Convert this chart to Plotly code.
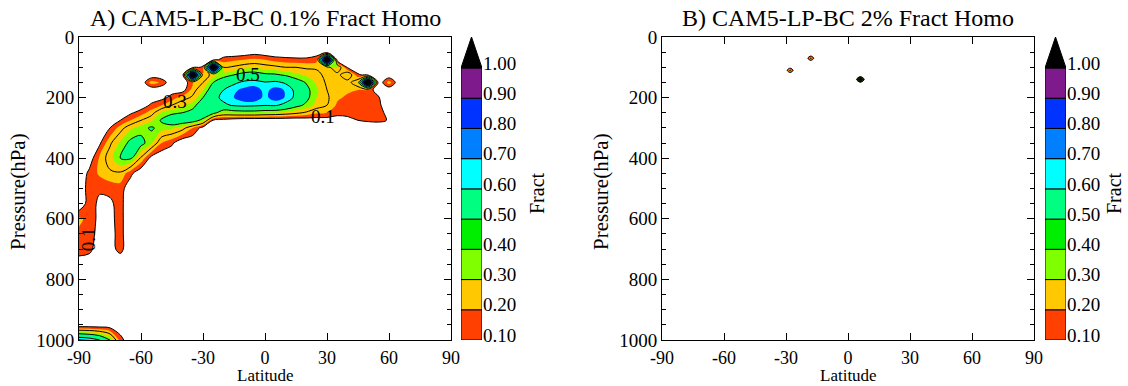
import numpy as np
import plotly.graph_objects as go

# ---------------- data ----------------
lats = [-90, -85, -80, -75, -70, -65, -60, -55, -50, -45, -40, -35, -30, -25, -20, -15,
        -10, -5, 0, 5, 10, 15, 20, 25, 30, 35, 40, 45, 50, 55, 60, 65]
plevs = [50, 75, 100, 125, 150, 175, 200, 225, 250, 275, 300, 350, 400, 450, 500, 550,
         600, 650, 700, 750, 800, 900, 950, 1000]

# Panel A: fraction profiles, one list per latitude (values at plevs)
frac_a_by_lat = [
    [0, 0, 0, 0, 0, 0, 0, 0, 0, 0, 0, 0, 0, 0, 0, 0, 0.22, 0.18, 0.15, 0.04, 0, 0, 0, 0.85],        # -90
    [0, 0, 0, 0, 0, 0, 0, 0, 0, 0, 0, 0, 0.03, 0.13, 0.16, 0.16, 0.17, 0.15, 0.13, 0.03, 0, 0, 0, 0.8],  # -85
    [0, 0, 0, 0, 0, 0, 0, 0, 0, 0, 0, 0.08, 0.22, 0.22, 0.12, 0.07, 0.06, 0.05, 0.03, 0, 0, 0, 0, 0.7],  # -80
    [0, 0, 0, 0, 0, 0, 0, 0, 0, 0, 0.1, 0.28, 0.36, 0.28, 0.13, 0.08, 0.07, 0.06, 0.05, 0, 0, 0, 0, 0.5],  # -75
    [0, 0, 0, 0, 0, 0, 0, 0, 0, 0.1, 0.25, 0.42, 0.5, 0.28, 0.15, 0.14, 0.14, 0.14, 0.14, 0, 0, 0, 0, 0.15],  # -70
    [0, 0, 0, 0, 0, 0, 0, 0, 0.08, 0.2, 0.38, 0.54, 0.52, 0.13, 0.02, 0, 0, 0, 0, 0, 0, 0, 0, 0],  # -65
    [0, 0, 0, 0, 0, 0, 0, 0.03, 0.15, 0.3, 0.45, 0.55, 0.28, 0, 0, 0, 0, 0, 0, 0, 0, 0, 0, 0],  # -60
    [0, 0, 0, 0, 0.25, 0, 0.04, 0.12, 0.25, 0.38, 0.52, 0.42, 0.05, 0, 0, 0, 0, 0, 0, 0, 0, 0, 0, 0],  # -55
    [0, 0, 0, 0, 0.18, 0, 0.06, 0.2, 0.42, 0.52, 0.45, 0.2, 0, 0, 0, 0, 0, 0, 0, 0, 0, 0, 0, 0],  # -50
    [0, 0, 0, 0, 0, 0.05, 0.14, 0.3, 0.47, 0.62, 0.42, 0.12, 0, 0, 0, 0, 0, 0, 0, 0, 0, 0, 0, 0],  # -45
    [0, 0, 0, 0, 0, 0.04, 0.25, 0.38, 0.5, 0.6, 0.35, 0, 0, 0, 0, 0, 0, 0, 0, 0, 0, 0, 0, 0],  # -40
    [0, 0, 0.05, 1.5, 0.2, 0.25, 0.32, 0.45, 0.55, 0.58, 0.2, 0, 0, 0, 0, 0, 0, 0, 0, 0, 0, 0, 0, 0],  # -35
    [0, 0, 0.12, 0.22, 0.3, 0.4, 0.5, 0.6, 0.65, 0.45, 0.05, 0, 0, 0, 0, 0, 0, 0, 0, 0, 0, 0, 0, 0],  # -30
    [0, 0.05, 1.5, 0.35, 0.5, 0.6, 0.65, 0.68, 0.55, 0.08, 0, 0, 0, 0, 0, 0, 0, 0, 0, 0, 0, 0, 0, 0],  # -25
    [0, 0.15, 0.3, 0.45, 0.6, 0.7, 0.74, 0.67, 0.4, 0.05, 0, 0, 0, 0, 0, 0, 0, 0, 0, 0, 0, 0, 0, 0],  # -20
    [0, 0.18, 0.32, 0.5, 0.67, 0.78, 0.8, 0.72, 0.42, 0.02, 0, 0, 0, 0, 0, 0, 0, 0, 0, 0, 0, 0, 0, 0],  # -15
    [0.02, 0.2, 0.36, 0.56, 0.73, 0.83, 0.87, 0.74, 0.43, 0, 0, 0, 0, 0, 0, 0, 0, 0, 0, 0, 0, 0, 0, 0],  # -10
    [0.05, 0.22, 0.38, 0.57, 0.75, 0.85, 0.87, 0.73, 0.43, 0, 0, 0, 0, 0, 0, 0, 0, 0, 0, 0, 0, 0, 0, 0],  # -5
    [0.02, 0.2, 0.35, 0.53, 0.71, 0.77, 0.77, 0.71, 0.41, 0, 0, 0, 0, 0, 0, 0, 0, 0, 0, 0, 0, 0, 0, 0],  # 0
    [0, 0.16, 0.33, 0.52, 0.73, 0.84, 0.86, 0.72, 0.4, 0, 0, 0, 0, 0, 0, 0, 0, 0, 0, 0, 0, 0, 0, 0],  # 5
    [0, 0.14, 0.3, 0.48, 0.68, 0.79, 0.79, 0.65, 0.37, 0, 0, 0, 0, 0, 0, 0, 0, 0, 0, 0, 0, 0, 0, 0],  # 10
    [0, 0.13, 0.3, 0.43, 0.57, 0.66, 0.66, 0.55, 0.33, 0, 0, 0, 0, 0, 0, 0, 0, 0, 0, 0, 0, 0, 0, 0],  # 15
    [0, 0.13, 0.28, 0.38, 0.49, 0.54, 0.54, 0.47, 0.28, 0.02, 0, 0, 0, 0, 0, 0, 0, 0, 0, 0, 0, 0, 0, 0],  # 20
    [0.04, 0.16, 0.28, 0.34, 0.38, 0.42, 0.4, 0.36, 0.22, 0.03, 0, 0, 0, 0, 0, 0, 0, 0, 0, 0, 0, 0, 0, 0],  # 25
    [0.05, 1.5, 0.25, 0.26, 0.28, 0.3, 0.32, 0.3, 0.2, 0.04, 0, 0, 0, 0, 0, 0, 0, 0, 0, 0, 0, 0, 0, 0],  # 30
    [0, 0.03, 0.42, 0.25, 0.26, 0.25, 0.22, 0.18, 0.15, 0.02, 0, 0, 0, 0, 0, 0, 0, 0, 0, 0, 0, 0, 0, 0],  # 35
    [0, 0, 0.08, 0.42, 0.24, 0.22, 0.18, 0.15, 0.14, 0.06, 0, 0, 0, 0, 0, 0, 0, 0, 0, 0, 0, 0, 0, 0],  # 40
    [0, 0, 0, 0.12, 0.42, 0.2, 0.16, 0.15, 0.15, 0.1, 0, 0, 0, 0, 0, 0, 0, 0, 0, 0, 0, 0, 0, 0],  # 45
    [0, 0, 0, 0.05, 1.5, 0.15, 0.15, 0.14, 0.14, 0.12, 0, 0, 0, 0, 0, 0, 0, 0, 0, 0, 0, 0, 0, 0],  # 50
    [0, 0, 0, 0, 0, 0.04, 0.11, 0.12, 0.13, 0.13, 0, 0, 0, 0, 0, 0, 0, 0, 0, 0, 0, 0, 0, 0],  # 55
    [0, 0, 0, 0, 0.25, 0, 0, 0.03, 0.07, 0.09, 0, 0, 0, 0, 0, 0, 0, 0, 0, 0, 0, 0, 0, 0],  # 60
    [0, 0, 0, 0, 0, 0, 0, 0, 0, 0, 0, 0, 0, 0, 0, 0, 0, 0, 0, 0, 0, 0, 0, 0],  # 65
]

# Panel B: blank field except a few isolated spots
spot_lat = [-28, -18, 6]
spot_p = [110, 70, 140]
spot_val = [0.35, 0.35, 1.3]

levels = [0.1, 0.2, 0.3, 0.4, 0.5, 0.6, 0.7, 0.8, 0.9, 1.0]
level_labels = ["0.10", "0.20", "0.30", "0.40", "0.50", "0.60", "0.70", "0.80", "0.90", "1.00"]
band_colors = ["#FF4000", "#FFC800", "#80FF00", "#00EE00", "#00FF80",
               "#00FFFF", "#0080FF", "#0033FF", "#7F1A8C"]
xtick_vals = [-90, -60, -30, 0, 30, 60, 90]
xtick_text = ["-90", "-60", "-30", "0", "30", "60", "90"]
ytick_vals = [0, 200, 400, 600, 800, 1000]

# contour labels (text, lat, p, angle)
clabels = [("0.5", -8, 123, 0), ("0.3", -43.5, 213, 0), ("0.1", 28, 263, 0), ("0.1", -85.6, 667, -90)]

# ---------------- build ----------------
z_a = np.array(frac_a_by_lat, dtype=float).T

lat_b = np.arange(-90, 91, 2)
p_b = np.arange(0, 1001, 10)
z_b = np.zeros((len(p_b), len(lat_b)))
for la, pp, v in zip(spot_lat, spot_p, spot_val):
    z_b[int(np.argmin(np.abs(p_b - pp))), int(np.argmin(np.abs(lat_b - la)))] = v

# stepped colorscale: below 0.1 white, bands, above 1.0 black
cs = [[0.0, "white"], [0.1, "white"]]
for i, c in enumerate(band_colors):
    lo = 0.1 * (i + 1)
    hi = 0.1 * (i + 2) if i < len(band_colors) - 1 else 0.975
    cs += [[lo, c], [hi, c]]
cs += [[0.975, "black"], [1.0, "black"]]

W, H = 1128, 386
FONT = "Liberation Serif"


def px_x(v):
    return v / W


def px_y(v):
    return 1 - v / H


fig = go.Figure()

panels = [
    dict(x=lats, y=plevs, z=z_a, xa="x", ya="y", cbx="x3", cby="y3",
         dom=(79, 451), cbdom=(461, 482), fract_x=537,
         title="A) CAM5-LP-BC 0.1% Fract Homo"),
    dict(x=lat_b, y=p_b, z=z_b, xa="x2", ya="y2", cbx="x4", cby="y4",
         dom=(662, 1034), cbdom=(1045, 1066), fract_x=1114,
         title="B) CAM5-LP-BC 2% Fract Homo"),
]

annotations = []
for k, pn in enumerate(panels):
    fig.add_trace(go.Contour(
        x=pn["x"], y=pn["y"], z=pn["z"], xaxis=pn["xa"], yaxis=pn["ya"],
        autocontour=False,
        contours=dict(start=0.1, end=1.0, size=0.1, coloring="fill", showlines=False),
        colorscale=cs, showscale=False, line=dict(width=0), hoverinfo="skip"))
    fig.add_trace(go.Contour(
        x=pn["x"], y=pn["y"], z=pn["z"], xaxis=pn["xa"], yaxis=pn["ya"],
        autocontour=False,
        contours=dict(start=0.1, end=0.9, size=0.2, coloring="none"),
        line=dict(color="black", width=1), showscale=False, hoverinfo="skip"))
    # colour bar as stacked bars + triangle
    fig.add_trace(go.Bar(
        x=[0] * (len(levels) - 1), y=[levels[i + 1] - levels[i] for i in range(len(levels) - 1)],
        base=levels[:-1], width=1, xaxis=pn["cbx"], yaxis=pn["cby"],
        marker=dict(color=band_colors, line=dict(color="black", width=1)),
        hoverinfo="skip"))
    fig.add_trace(go.Scatter(
        x=[-0.5, 0.5, 0, -0.5], y=[1.0, 1.0, 1.1026, 1.0], xaxis=pn["cbx"], yaxis=pn["cby"],
        mode="lines", fill="toself", fillcolor="black", line=dict(color="black", width=1),
        hoverinfo="skip"))

    sfx = "" if k == 0 else "2"
    axis_common = dict(showline=True, linecolor="black", linewidth=1, mirror="allticks",
                       ticks="inside", ticklen=7, tickcolor="black", showgrid=False,
                       zeroline=False, automargin=False)
    fig.layout["xaxis" + sfx] = dict(
        domain=[px_x(pn["dom"][0]), px_x(pn["dom"][1])], range=[-90, 90],
        tickvals=xtick_vals, ticktext=xtick_text, anchor="y" + sfx,
        ticklabelstandoff=1,
        tickfont=dict(family=FONT, size=18, color="black"), **axis_common)
    fig.layout["yaxis" + sfx] = dict(
        domain=[px_y(340), px_y(37)], range=[1000, 0], tickvals=ytick_vals,
        minor=dict(dtick=50, ticks="inside", ticklen=4, tickcolor="black"),
        anchor="x" + sfx, tickfont=dict(family=FONT, size=19, color="black"), **axis_common)
    cb = "3" if k == 0 else "4"
    fig.layout["xaxis" + cb] = dict(
        domain=[px_x(pn["cbdom"][0]), px_x(pn["cbdom"][1])], range=[-0.5, 0.5],
        visible=False, anchor="y" + cb, automargin=False)
    fig.layout["yaxis" + cb] = dict(
        domain=[px_y(340), px_y(37)], range=[0.1, 1.1026], side="right", anchor="x" + cb,
        tickvals=levels, ticktext=level_labels, ticks="", showline=False, showgrid=False,
        zeroline=False, ticklabelshift=-5, automargin=False,
        tickfont=dict(family=FONT, size=19, color="black"))

    cx = (pn["dom"][0] + pn["dom"][1]) / 2
    annotations.append(dict(text=pn["title"], x=px_x(cx), y=px_y(18), xref="paper", yref="paper",
                            showarrow=False, font=dict(family=FONT, size=24, color="black"),
                            xanchor="center", yanchor="middle"))
    annotations.append(dict(text="Latitude", x=px_x(cx), y=px_y(375), xref="paper", yref="paper",
                            showarrow=False, font=dict(family=FONT, size=17, color="black"),
                            xanchor="center", yanchor="middle", borderpad=0))
    annotations.append(dict(text="Pressure(hPa)", x=px_x(pn["dom"][0] - 61), y=px_y(192),
                            xref="paper", yref="paper", textangle=-90, showarrow=False,
                            font=dict(family=FONT, size=21, color="black"),
                            xanchor="center", yanchor="middle"))
    annotations.append(dict(text="Fract", x=px_x(pn["fract_x"]), y=px_y(193),
                            xref="paper", yref="paper", textangle=-90, showarrow=False,
                            font=dict(family=FONT, size=20, color="black"),
                            xanchor="center", yanchor="middle"))

for txt, la, pp, ang in clabels:
    annotations.append(dict(text=txt, x=la, y=pp, xref="x", yref="y", showarrow=False,
                            textangle=ang, font=dict(family=FONT, size=19, color="black"),
                            xanchor="center", yanchor="middle"))

fig.update_layout(width=W, height=H, margin=dict(l=0, r=0, t=0, b=0, autoexpand=False),
                  paper_bgcolor="white", plot_bgcolor="white", showlegend=False,
                  barmode="overlay", annotations=annotations,
                  font=dict(family=FONT, color="black"))

fig.write_html("out.html")
